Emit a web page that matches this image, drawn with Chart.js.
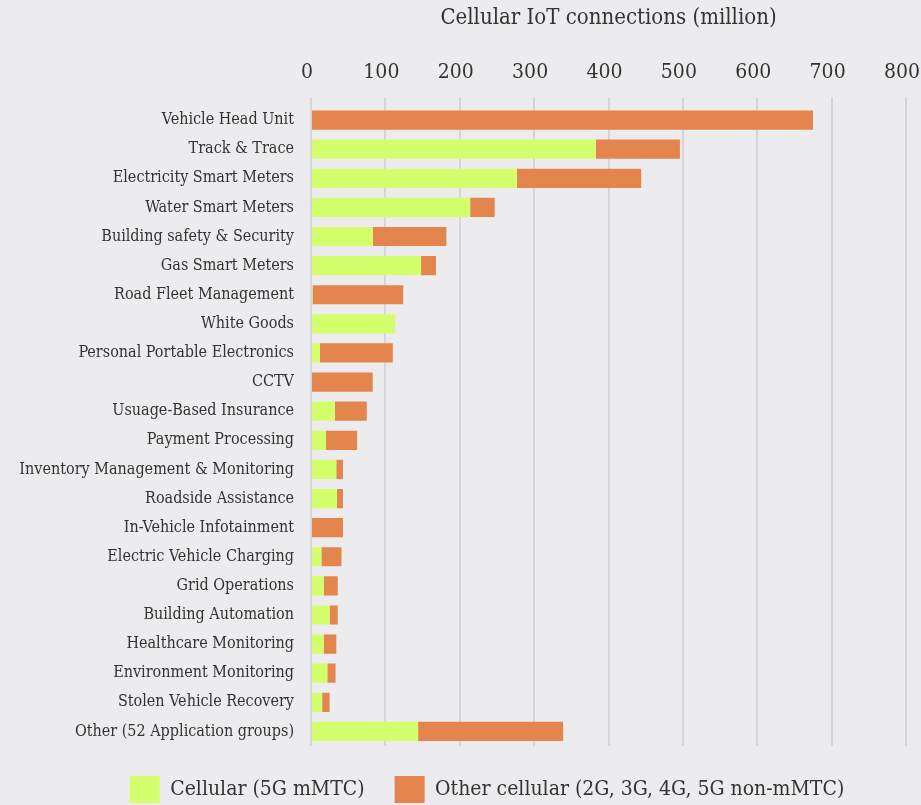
<!DOCTYPE html>
<html>
<head>
<meta charset="utf-8">
<script src="https://cdn.jsdelivr.net/npm/chart.js@4/dist/chart.umd.min.js"></script>
<style>
  html, body { margin: 0; padding: 0; background: #ececee; }
  #wrap { width: 921px; height: 805px; }
</style>
</head>
<body>
<div id="wrap"><canvas id="c" width="921" height="805"></canvas></div>
<script>
const categories = [
  "Vehicle Head Unit",
  "Track & Trace",
  "Electricity Smart Meters",
  "Water Smart Meters",
  "Building safety & Security",
  "Gas Smart Meters",
  "Road Fleet Management",
  "White Goods",
  "Personal Portable Electronics",
  "CCTV",
  "Usuage-Based Insurance",
  "Payment Processing",
  "Inventory Management & Monitoring",
  "Roadside Assistance",
  "In-Vehicle Infotainment",
  "Electric Vehicle Charging",
  "Grid Operations",
  "Building Automation",
  "Healthcare Monitoring",
  "Environment Monitoring",
  "Stolen Vehicle Recovery",
  "Other (52 Application groups)"
];
const cellular5GmMTC = [0, 383, 277, 214, 83, 148, 2, 113, 12, 0, 32, 20, 34, 35, 0, 14, 17, 25, 17, 22, 15, 144];
const otherCellular   = [675, 113, 167, 33, 99, 20, 122, 0, 98, 83, 43, 42, 9, 8, 43, 27, 19, 11, 17, 11, 10, 195];
const xTicks = [0, 100, 200, 300, 400, 500, 600, 700, 800];
const seriesNames = ["Cellular (5G mMTC)", "Other cellular (2G, 3G, 4G, 5G non-mMTC)"];
const axisTitle = "Cellular IoT connections (million)";

const FONT = "'Roboto Slab', 'DejaVu Serif Condensed', 'DejaVu Serif', serif";
const TXT = "#333333";

const bgPlugin = {
  id: 'bg',
  beforeDraw(chart) {
    const ctx = chart.ctx;
    ctx.save();
    ctx.fillStyle = '#ececee';
    ctx.fillRect(0, 0, chart.width, chart.height);
    ctx.restore();
  }
};

const legendShift = {
  id: 'legendShift',
  afterLayout(chart) {
    const l = chart.legend;
    if (l) { l.left += 34; l.right += 34; }
  }
};

new Chart(document.getElementById('c'), {
  type: 'bar',
  data: {
    labels: categories,
    datasets: [
      { label: seriesNames[0], data: cellular5GmMTC, backgroundColor: '#d4ff6c', borderWidth: 0 },
      { label: seriesNames[1], data: otherCellular, backgroundColor: '#e3854d', borderWidth: 0 }
    ]
  },
  options: {
    indexAxis: 'y',
    responsive: false,
    animation: false,
    devicePixelRatio: 1,
    barPercentage: 0.66,
    categoryPercentage: 1.0,
    layout: { padding: { left: 0, right: 15, top: 0, bottom: -8 } },
    scales: {
      x: {
        position: 'top',
        stacked: true,
        min: 0, max: 800,
        afterBuildTicks: (s) => { s.ticks = xTicks.map(v => ({ value: v })); },
        afterFit: (s) => { s.height = 105.5; s.paddingLeft = 0; s.paddingRight = 0; },
        border: { display: false },
        grid: { color: '#d6d5db', lineWidth: 2, tickLength: 8, drawTicks: true },
        ticks: { font: { family: FONT, size: 21 }, color: TXT, padding: 12, labelOffset: -4 },
        title: { display: true, text: axisTitle, font: { family: FONT, size: 22 }, color: TXT, padding: { top: 5, bottom: 0 } }
      },
      y: {
        stacked: true,
        afterFit: (s) => { s.width = 311; },
        border: { display: false },
        grid: { display: false },
        ticks: { font: { family: FONT, size: 16 }, color: TXT, padding: 9, autoSkip: false }
      }
    },
    plugins: {
      legend: {
        position: 'bottom',
        labels: {
          font: { family: FONT, size: 21 },
          color: TXT,
          boxWidth: 30,
          boxHeight: 27,
          padding: 30
        }
      },
      tooltip: { enabled: false },
      title: { display: false }
    }
  },
  plugins: [bgPlugin, legendShift]
});
</script>
</body>
</html>
